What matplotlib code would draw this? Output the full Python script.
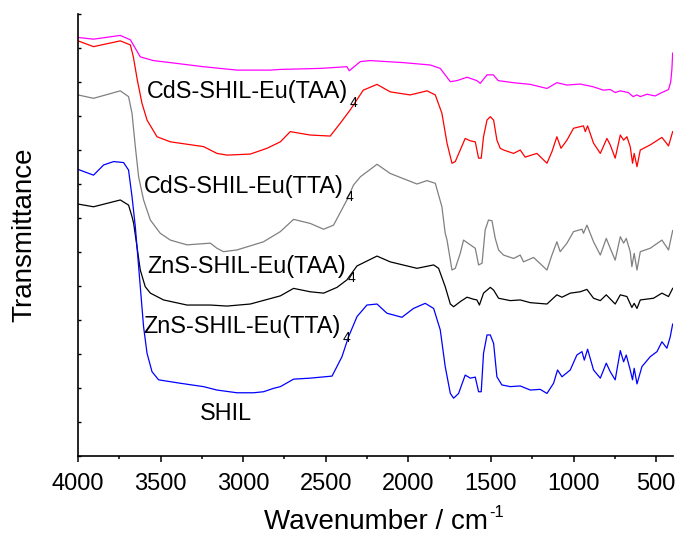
import matplotlib
matplotlib.use("Agg")
import matplotlib.pyplot as plt
from matplotlib.ticker import MultipleLocator, NullFormatter

plt.rcParams['font.family'] = ['Liberation Sans', 'DejaVu Sans']

# ---------------- data (wavenumber / cm-1, transmittance in arbitrary offset units) -------------
wn_cds_taa = [4000, 3906, 3744, 3683, 3641, 3623, 3544, 3441, 3242, 3036, 2836, 2775, 2533, 2372, 2358,
              2291, 2231, 2031, 1867, 1807, 1746, 1706, 1645, 1585, 1565, 1524, 1486, 1456, 1365, 1262,
              1161, 1101, 1040, 960, 881, 820, 778, 748, 717, 669, 639, 616, 596, 556, 506, 465, 425,
              412, 405, 400]
t_cds_taa = [12.31, 12.26, 12.37, 12.24, 11.89, 11.74, 11.63, 11.57, 11.45, 11.35, 11.35, 11.37, 11.40,
             11.45, 11.33, 11.60, 11.63, 11.57, 11.50, 11.40, 11.01, 11.04, 11.14, 11.04, 10.96, 11.21,
             11.21, 11.04, 10.98, 10.93, 10.81, 10.98, 10.91, 10.94, 10.86, 10.76, 10.78, 10.69, 10.74,
             10.69, 10.57, 10.62, 10.57, 10.64, 10.59, 10.69, 10.78, 11.00, 11.35, 11.85]

wn_cds_taa_red = [4000, 3906, 3744, 3683, 3665, 3641, 3613, 3582, 3522, 3441, 3240, 3159, 3098, 2957,
                  2856, 2775, 2715, 2594, 2473, 2412, 2352, 2273, 2190, 2110, 1989, 1887, 1837, 1797,
                  1766, 1736, 1716, 1686, 1656, 1625, 1595, 1575, 1559, 1545, 1524, 1504, 1484, 1464,
                  1444, 1424, 1363, 1323, 1293, 1222, 1161, 1131, 1101, 1076, 1040, 1000, 940, 929,
                  915, 879, 838, 798, 778, 748, 717, 697, 677, 657, 643, 633, 616, 596, 536, 465, 425, 400]
t_cds_taa_red = [12.21, 12.04, 12.21, 12.09, 11.74, 11.06, 10.38, 9.88, 9.39, 9.24, 9.10, 8.90, 8.85,
                 8.88, 9.05, 9.24, 9.54, 9.44, 9.41, 9.79, 10.18, 10.76, 10.93, 10.71, 10.62, 10.74,
                 10.62, 10.08, 9.20, 8.61, 8.66, 9.00, 9.34, 9.27, 9.24, 8.76, 8.76, 9.39, 9.88, 9.98,
                 9.88, 9.29, 9.05, 9.00, 8.90, 9.00, 8.79, 8.90, 8.61, 8.95, 9.39, 9.05, 9.29, 9.64,
                 9.71, 9.54, 9.71, 9.20, 8.90, 9.34, 9.15, 8.76, 9.44, 9.29, 9.39, 9.10, 8.61, 8.90,
                 8.51, 9.00, 9.15, 9.37, 9.12, 9.54]

wn_cds_tta = [4000, 3906, 3744, 3694, 3673, 3653, 3633, 3603, 3562, 3502, 3441, 3340, 3199, 3159, 3119,
              3038, 2877, 2775, 2695, 2594, 2513, 2453, 2372, 2332, 2291, 2190, 2110, 1948, 1887, 1837,
              1797, 1777, 1766, 1736, 1716, 1686, 1666, 1625, 1595, 1575, 1554, 1535, 1515, 1494, 1474,
              1454, 1424, 1363, 1323, 1303, 1242, 1161, 1131, 1101, 1081, 1040, 1000, 949, 940, 919,
              879, 838, 802, 778, 748, 717, 697, 681, 657, 647, 633, 616, 596, 536, 465, 425, 400]
t_cds_tta = [10.62, 10.52, 10.74, 10.57, 10.08, 9.10, 8.21, 7.53, 6.94, 6.55, 6.35, 6.21, 6.26, 6.11,
             6.01, 6.06, 6.30, 6.60, 6.96, 6.84, 6.67, 6.79, 7.53, 7.97, 8.21, 8.58, 8.31, 8.00, 8.10,
             8.02, 7.33, 6.55, 6.35, 5.47, 5.52, 5.96, 6.35, 6.21, 6.11, 5.62, 5.67, 6.65, 6.94, 6.92,
             6.40, 6.06, 5.91, 5.81, 5.91, 5.71, 5.84, 5.47, 5.91, 6.30, 6.01, 6.26, 6.60, 6.67, 6.55,
             6.79, 6.30, 5.91, 6.40, 6.11, 5.76, 6.45, 6.26, 6.40, 6.01, 5.57, 5.96, 5.47, 6.01, 6.11,
             6.35, 6.06, 6.63]

wn_zns_taa = [4000, 3906, 3744, 3694, 3673, 3663, 3643, 3623, 3593, 3562, 3482, 3340, 3199, 3098, 2957,
              2775, 2695, 2594, 2513, 2432, 2372, 2311, 2190, 2110, 1948, 1847, 1817, 1777, 1746, 1726,
              1686, 1645, 1605, 1585, 1570, 1545, 1504, 1484, 1454, 1383, 1323, 1262, 1161, 1101, 1070,
              1020, 960, 919, 879, 838, 802, 748, 717, 677, 647, 633, 616, 596, 516, 465, 425, 400]
t_zns_taa = [7.41, 7.33, 7.53, 7.38, 7.04, 6.84, 6.16, 5.47, 4.98, 4.79, 4.59, 4.44, 4.44, 4.41, 4.47,
             4.71, 4.93, 4.83, 4.79, 4.96, 5.18, 5.59, 5.88, 5.71, 5.52, 5.62, 5.52, 4.98, 4.47, 4.39,
             4.54, 4.67, 4.61, 4.59, 4.44, 4.79, 4.96, 4.88, 4.64, 4.57, 4.59, 4.51, 4.47, 4.74, 4.67,
             4.79, 4.83, 4.90, 4.64, 4.57, 4.74, 4.47, 4.74, 4.69, 4.37, 4.49, 4.34, 4.59, 4.64, 4.79,
             4.69, 4.93]

wn_shil = [4000, 3906, 3845, 3784, 3724, 3694, 3673, 3653, 3643, 3623, 3603, 3582, 3552, 3512, 3381,
           3240, 3159, 3038, 2937, 2877, 2816, 2775, 2695, 2594, 2462, 2402, 2362, 2311, 2251, 2190,
           2130, 2039, 1969, 1898, 1847, 1807, 1777, 1746, 1726, 1696, 1656, 1625, 1595, 1575, 1559,
           1545, 1524, 1504, 1484, 1464, 1434, 1383, 1323, 1262, 1202, 1161, 1121, 1097, 1070, 1020,
           980, 949, 935, 915, 879, 838, 802, 778, 748, 717, 697, 681, 657, 643, 633, 616, 586, 536,
           495, 465, 435, 415, 400]
t_shil = [8.43, 8.26, 8.56, 8.66, 8.63, 8.41, 7.63, 6.74, 6.16, 4.98, 3.80, 3.02, 2.48, 2.24, 2.14,
          2.04, 1.94, 1.86, 1.86, 1.89, 1.99, 2.04, 2.26, 2.29, 2.35, 2.92, 3.51, 4.10, 4.44, 4.47,
          4.20, 4.08, 4.34, 4.49, 4.34, 3.71, 2.63, 1.84, 1.70, 1.84, 2.38, 2.29, 2.32, 1.89, 1.89,
          3.02, 3.56, 3.56, 3.31, 2.33, 2.09, 2.04, 2.06, 1.94, 1.96, 1.84, 2.14, 2.53, 2.33, 2.53,
          2.97, 3.07, 2.82, 3.14, 2.53, 2.29, 2.73, 2.48, 2.24, 3.10, 2.77, 2.97, 2.53, 2.24, 2.58,
          2.12, 2.63, 2.92, 3.07, 3.36, 3.17, 3.50, 3.88]

labels = ["CdS-SHIL-Eu(TAA)", "CdS-SHIL-Eu(TTA)", "ZnS-SHIL-Eu(TAA)", "ZnS-SHIL-Eu(TTA)", "SHIL"]
label_x = [3582, 3599, 3579, 3603, 3260]
label_y = [10.52, 7.74, 5.37, 3.61, 1.06]
label_sub = ["4", "4", "4", "4", ""]

x_major = [4000, 3500, 3000, 2500, 2000, 1500, 1000, 500]

# ---------------- figure ----------------
fig = plt.figure(figsize=(6.79, 5.42), dpi=100)
ax = fig.add_axes([78 / 679, (542 - 456) / 542, (673 - 78) / 679, (456 - 14) / 542])

lw = 0.9
ax.plot(wn_cds_taa, t_cds_taa, color='#ff00ff', lw=lw)
ax.plot(wn_cds_taa_red, t_cds_taa_red, color='#ff0000', lw=lw)
ax.plot(wn_cds_tta, t_cds_tta, color='#808080', lw=lw)
ax.plot(wn_zns_taa, t_zns_taa, color='#000000', lw=lw)
ax.plot(wn_shil, t_shil, color='#0000ff', lw=lw)

ax.set_xlim(4000, 398)
ax.set_ylim(0, 13)

ax.spines['top'].set_visible(False)
ax.spines['right'].set_visible(False)
for s in ('left', 'bottom'):
    ax.spines[s].set_linewidth(1.2)

ax.set_xticks(x_major)
ax.set_xticklabels([str(v) for v in x_major])
ax.xaxis.set_minor_locator(MultipleLocator(250))
ax.tick_params(axis='x', which='major', direction='out', length=4, width=1.1, labelsize=17, pad=8)
ax.tick_params(axis='x', which='minor', direction='out', length=2.5, width=1.1)
ax.yaxis.set_major_locator(MultipleLocator(1))
ax.yaxis.set_major_formatter(NullFormatter())
ax.tick_params(axis='y', which='major', direction='in', length=2.5, width=1.0, left=True)

ax.set_xlabel("Wavenumber / cm", fontsize=20, labelpad=10)
ax.annotate("-1", xy=(1, 1), xycoords=ax.xaxis.label, xytext=(1, 2.5),
            textcoords='offset points', fontsize=12, ha='left', va='top')
ax.set_ylabel("Transmittance", fontsize=20, labelpad=26)

for txt, x, y, sub in zip(labels, label_x, label_y, label_sub):
    t = ax.text(x, y, txt, fontsize=16.8, ha='left', va='baseline')
    if sub:
        ax.annotate(sub, xy=(1, 0), xycoords=t, xytext=(1.0, -2.5), textcoords='offset points',
                    fontsize=10, ha='left', va='baseline')

fig.savefig("out.png", dpi=100)
